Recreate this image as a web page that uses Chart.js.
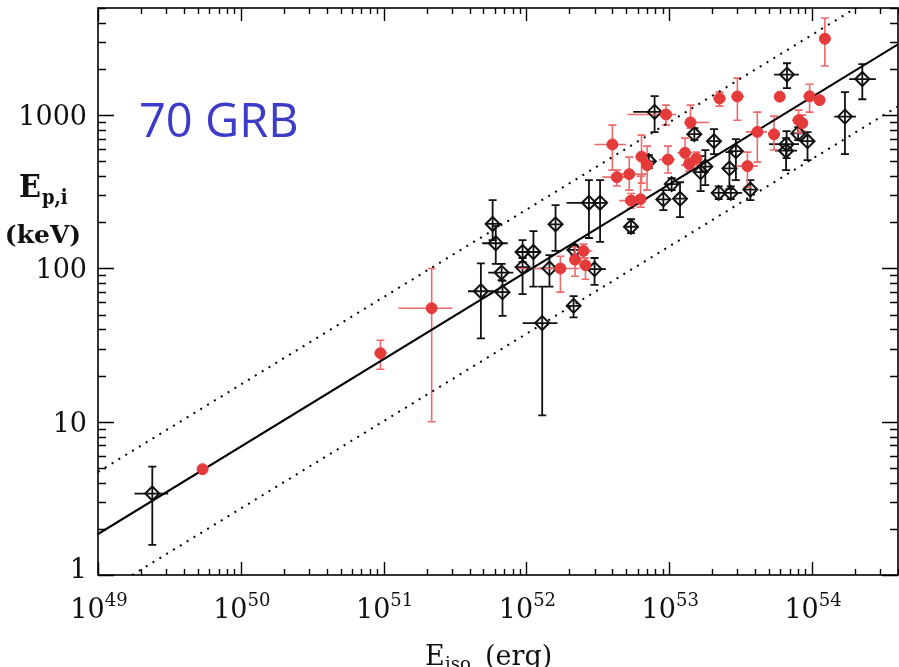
<!DOCTYPE html>
<html>
<head>
<meta charset="utf-8">
<script src="https://cdn.jsdelivr.net/npm/chart.js@4.4.1/dist/chart.umd.min.js"></script>
<style>
  html, body { margin: 0; padding: 0; background: #fff; }
  #wrap { width: 899px; height: 667px; position: relative; }
  canvas { display: block; }
</style>
</head>
<body>
<div id="wrap"><canvas id="c" width="899" height="667"></canvas></div>
<script>
// ---- GRBs drawn as open diamonds: Eiso (erg), Ep,i (keV) and error bounds ----
const blackEiso   = [2.4e49, 4.8e51, 5.8e51, 6.1e51, 6.7e51, 6.8e51, 9.4e51, 1.12e52, 9.4e51, 1.45e52,
                     1.29e52, 1.6e52, 2.14e52, 2.17e52, 3.0e52, 2.74e52, 3.28e52, 5.4e52, 7.9e52, 7.2e52,
                     9.1e52, 1.19e53, 1.04e53, 1.5e53, 1.79e53, 1.66e53, 2.06e53, 2.22e53, 2.7e53, 2.64e53,
                     2.93e53, 3.7e53, 6.64e53, 6.58e53, 6.68e53, 8.0e53, 9.3e53, 1.7e54, 2.25e54];
const blackEp     = [3.4, 71, 195, 146, 94, 70, 128, 128, 102, 100,
                     44, 194, 57, 132, 99, 268, 268, 187, 1050, 500,
                     282, 285, 355, 751, 462, 425, 676, 311, 311, 449,
                     582, 327, 647, 586, 1840, 760, 676, 978, 1720];
const blackEisoLo = [1.8e49, 3.9e51, 5.25e51, 4.9e51, 5.4e51, 6.2e51, 8.5e51, 1.02e52, 8.5e51, 1.23e52,
                     9.4e51, 1.45e52, 1.94e52, 2.0e52, 2.47e52, 1.91e52, 3.0e52, 4.9e52, 5.6e52, 6.7e52,
                     8.2e52, 1.08e53, 9.4e52, 1.36e53, 1.62e53, 1.55e53, 1.88e53, 2.0e53, 2.43e53, 2.39e53,
                     2.67e53, 3.35e53, 5.0e53, 5.5e53, 5.42e53, 7.25e53, 8.4e53, 1.43e54, 1.82e54];
const blackEisoHi = [3.1e49, 6.0e51, 6.7e51, 7.4e51, 8.1e51, 7.5e51, 1.03e52, 1.23e52, 1.03e52, 1.7e52,
                     1.65e52, 1.79e52, 2.35e52, 2.35e52, 3.6e52, 3.24e52, 3.6e52, 5.9e52, 9.7e52, 7.85e52,
                     1.0e53, 1.31e53, 1.17e53, 1.65e53, 1.97e53, 1.8e53, 2.28e53, 2.47e53, 3.24e53, 2.9e53,
                     3.19e53, 4.06e53, 8.1e53, 7.85e53, 8.1e53, 8.8e53, 1.02e54, 2.03e54, 2.8e54];
const blackEpLo   = [1.57, 35, 153, 107, 84, 49, 110, 76, 68, 76,
                     11, 130, 48, 122, 78, 158, 149, 170, 774, 451,
                     240, 216, 324, 687, 349, 319, 557, 283, 283, 329,
                     377, 279, 525, 438, 1500, 687, 509, 556, 1270];
const blackEpHi   = [5.1, 108, 279, 189, 107, 83, 153, 175, 117, 122,
                     76, 259, 66, 142, 117, 377, 377, 210, 1330, 548,
                     324, 365, 388, 823, 592, 540, 811, 343, 343, 574,
                     697, 377, 787, 708, 2180, 835, 774, 1413, 2150];

// ---- GRBs drawn as filled red circles (null = no error bar drawn) ----
const redEiso   = [5.4e49, 9.5e50, 2.17e51, 1.73e52, 2.19e52, 2.51e52, 2.59e52, 4.0e52, 4.3e52, 5.25e52,
                   5.4e52, 6.3e52, 6.4e52, 7.0e52, 9.5e52, 9.8e52, 1.29e53, 1.38e53, 1.41e53, 1.55e53,
                   2.25e53, 3.0e53, 3.53e53, 4.14e53, 5.42e53, 5.94e53, 8.05e53, 8.55e53, 9.62e53, 1.13e54,
                   1.23e54];
const redEp     = [4.9, 28, 55, 100, 114, 130, 105, 644, 394, 412,
                   277, 283, 536, 472, 1010, 513, 568, 479, 896, 522,
                   1285, 1324, 465, 778, 750, 1320, 927, 887, 1327, 1253,
                   3150];
const redEisoLo = [null, 8.65e50, 1.27e51, 8.5e51, 2.0e52, 2.27e52, 2.35e52, 3.0e52, 3.4e52, 4.47e52,
                   4.47e52, 5.7e52, 5.8e52, 6.4e52, 5.1e52, 8.5e52, 1.14e53, 1.25e53, 1.27e53, 1.4e53,
                   2.03e53, 2.72e53, 2.95e53, 3.45e53, 4.92e53, null, 7.25e53, 7.73e53, 8.65e53, null,
                   1.12e54];
const redEisoHi = [null, 1.05e51, 3.04e51, 2.35e52, 2.43e52, 2.9e52, 2.85e52, 5.0e52, 5.4e52, 6.9e52,
                   6.7e52, 7.0e52, 7.1e52, 7.7e52, 1.12e53, 1.1e53, 1.45e53, 1.52e53, 1.91e53, 1.7e53,
                   2.5e53, 3.35e53, 4.19e53, 4.84e53, 5.97e53, null, 8.93e53, 9.38e53, 1.07e54, null,
                   1.36e54];
const redEpLo   = [null, 22, 10, 70, 89, 117, 85, 438, 345, 324,
                   247, 251, 360, 324, 861, 419, 472, 431, 823, 472,
                   1145, 927, 339, 494, 592, null, 764, 787, 1046, null,
                   2090];
const redEpHi   = [null, 34, 100, 120, 138, 144, 117, 861, 438, 532,
                   308, 400, 741, 628, 1162, 628, 708, 525, 1162, 574,
                   1413, 1744, 574, 1046, 985, null, 1078, 1000, 1592, null,
                   4300];

// ---- Best-fit power law and its +/- band, as end points across the plotted range ----
const fitEiso     = [1e49, 4e54];
const fitEp       = [1.85, 2900];
const upperBandEp = [4.7, 7370];
const lowerBandEp = [0.73, 1140];

// ---- Axis tick labels ----
const xTickExponents = ['49', '50', '51', '52', '53', '54'];
const yTickLabels    = ['1', '10', '100', '1000'];
const titleText = '70 GRB';

const RED = '#e53a3a';
const RED_BAR = '#ee6a6a';
const BLUE = '#3c3cc8';

const toPoints = (xs, ys) => xs.map((x, i) => ({ x: x, y: ys[i] }));

// error bars drawn underneath the markers
const errorBarPlugin = {
  id: 'errorBars',
  beforeDatasetsDraw(chart) {
    const { ctx, chartArea, scales } = chart;
    const sx = scales.x, sy = scales.y;
    ctx.save();
    ctx.beginPath();
    ctx.rect(chartArea.left, chartArea.top, chartArea.right - chartArea.left, chartArea.bottom - chartArea.top);
    ctx.clip();
    const draw = (E, P, Elo, Ehi, Plo, Phi, color, width, cross) => {
      ctx.strokeStyle = color;
      ctx.lineWidth = width;
      for (let i = 0; i < E.length; i++) {
        const px = sx.getPixelForValue(E[i]);
        const py = sy.getPixelForValue(P[i]);
        ctx.beginPath();
        if (Elo[i] != null) {
          ctx.moveTo(sx.getPixelForValue(Elo[i]), py);
          ctx.lineTo(sx.getPixelForValue(Ehi[i]), py);
        }
        if (Plo[i] != null) {
          const yLo = sy.getPixelForValue(Plo[i]);
          const yHi = sy.getPixelForValue(Phi[i]);
          ctx.moveTo(px, yLo); ctx.lineTo(px, yHi);
          ctx.moveTo(px - 4, yLo); ctx.lineTo(px + 4, yLo);
          ctx.moveTo(px - 4, yHi); ctx.lineTo(px + 4, yHi);
        }
        if (cross) {
          ctx.moveTo(px - cross, py); ctx.lineTo(px + cross, py);
          ctx.moveTo(px, py - cross); ctx.lineTo(px, py + cross);
        }
        ctx.stroke();
      }
    };
    draw(blackEiso, blackEp, blackEisoLo, blackEisoHi, blackEpLo, blackEpHi, '#111', 1.8, 7);
    draw(redEiso, redEp, redEisoLo, redEisoHi, redEpLo, redEpHi, RED_BAR, 1.6, 0);
    ctx.restore();
  }
};

// frame, inward ticks on all four sides, tick labels, axis titles and annotation
const framePlugin = {
  id: 'frame',
  afterDraw(chart) {
    const { ctx, chartArea: a, scales } = chart;
    const sx = scales.x, sy = scales.y;
    ctx.save();
    ctx.strokeStyle = '#000';
    ctx.lineWidth = 1.6;
    ctx.strokeRect(a.left, a.top, a.right - a.left, a.bottom - a.top);

    ctx.lineWidth = 1.4;
    ctx.beginPath();
    for (let d = 49; d <= 54; d++) {
      for (let m = 1; m <= 9; m++) {
        const v = m * Math.pow(10, d);
        if (v < sx.min || v > sx.max) continue;
        const p = Math.round(sx.getPixelForValue(v)) + 0.5;
        const len = m === 1 ? 13 : 6;
        ctx.moveTo(p, a.bottom); ctx.lineTo(p, a.bottom - len);
        ctx.moveTo(p, a.top); ctx.lineTo(p, a.top + len);
      }
    }
    for (let d = 0; d <= 3; d++) {
      for (let m = 1; m <= 9; m++) {
        const v = m * Math.pow(10, d);
        if (v < sy.min || v > sy.max) continue;
        const p = Math.round(sy.getPixelForValue(v)) + 0.5;
        const len = m === 1 ? 16 : 8;
        ctx.moveTo(a.left, p); ctx.lineTo(a.left + len, p);
        ctx.moveTo(a.right, p); ctx.lineTo(a.right - len, p);
      }
    }
    ctx.stroke();

    ctx.fillStyle = '#111';
    // x tick labels: 10 with a raised exponent
    const bigFont = '27px "DejaVu Serif"';
    const supFont = '18px "DejaVu Serif"';
    xTickExponents.forEach(exp => {
      const p = sx.getPixelForValue(Math.pow(10, Number(exp)));
      ctx.font = bigFont;
      const w1 = ctx.measureText('10').width;
      ctx.font = supFont;
      const w2 = ctx.measureText(exp).width;
      const x0 = p + 1 - (w1 + w2) / 2;
      ctx.textBaseline = 'alphabetic';
      ctx.textAlign = 'left';
      ctx.font = bigFont;
      ctx.fillText('10', x0, 618);
      ctx.font = supFont;
      ctx.fillText(exp, x0 + w1, 606);
    });
    // y tick labels
    ctx.font = bigFont;
    ctx.textAlign = 'right';
    ctx.textBaseline = 'middle';
    yTickLabels.forEach((lab, i) => {
      const p = sy.getPixelForValue(Number(lab));
      const off = i === 0 ? -4 : 3;
      ctx.fillText(lab, 87, p + off);
    });

    // x axis title: E_iso (erg)
    ctx.textAlign = 'left';
    ctx.textBaseline = 'alphabetic';
    ctx.font = '27px "DejaVu Serif"';
    ctx.fillText('E', 425, 665);
    ctx.font = '18px "DejaVu Serif"';
    ctx.fillText('iso', 445, 670);
    ctx.font = '27px "DejaVu Serif"';
    ctx.fillText('(erg)', 485, 665);

    // y axis title: E_p,i (keV)
    ctx.font = 'bold 32px "DejaVu Serif Condensed", "DejaVu Serif"';
    ctx.fillText('E', 19, 197);
    const wE = ctx.measureText('E').width;
    ctx.font = 'bold 20px "DejaVu Serif Condensed", "DejaVu Serif"';
    ctx.fillText('p,i', 19 + wE + 1, 204);
    ctx.font = 'bold 25px "DejaVu Serif"';
    ctx.textAlign = 'center';
    ctx.fillText('(keV)', 43, 243);

    // annotation
    ctx.fillStyle = BLUE;
    ctx.textAlign = 'left';
    ctx.font = '47px "Open Sans"';
    ctx.fillText(titleText, 139, 137);
    ctx.restore();
  }
};

const noPad = (scale) => {
  scale.paddingLeft = 0; scale.paddingRight = 0;
  scale.paddingTop = 0; scale.paddingBottom = 0;
};

new Chart(document.getElementById('c').getContext('2d'), {
  type: 'scatter',
  data: {
    datasets: [
      { type: 'line', label: 'fit', data: toPoints(fitEiso, fitEp), borderColor: '#000', borderWidth: 2,
        pointRadius: 0, fill: false, order: 5 },
      { type: 'line', label: 'upper', data: toPoints(fitEiso, upperBandEp), borderColor: '#000', borderWidth: 2,
        borderDash: [2, 6], pointRadius: 0, fill: false, order: 6 },
      { type: 'line', label: 'lower', data: toPoints(fitEiso, lowerBandEp), borderColor: '#000', borderWidth: 2,
        borderDash: [2, 6], pointRadius: 0, fill: false, order: 7 },
      { label: 'diamonds', data: toPoints(blackEiso, blackEp), pointStyle: 'rectRot', pointRadius: 7,
        borderColor: '#111', borderWidth: 2, backgroundColor: 'rgba(0,0,0,0)', order: 2 },
      { label: 'circles', data: toPoints(redEiso, redEp), pointStyle: 'circle', pointRadius: 5.5,
        borderColor: RED, borderWidth: 1, backgroundColor: RED, order: 1 }
    ]
  },
  options: {
    responsive: false,
    animation: false,
    devicePixelRatio: 1,
    layout: { autoPadding: false, padding: { left: 98, top: 8, right: 1, bottom: 92 } },
    plugins: { legend: { display: false }, tooltip: { enabled: false } },
    scales: {
      x: { type: 'logarithmic', min: 1e49, max: 4e54, afterFit: noPad,
           ticks: { display: false }, grid: { display: false, drawTicks: false }, border: { display: false } },
      y: { type: 'logarithmic', min: 1, max: 5000, afterFit: noPad,
           ticks: { display: false }, grid: { display: false, drawTicks: false }, border: { display: false } }
    }
  },
  plugins: [errorBarPlugin, framePlugin]
});
</script>
</body>
</html>
